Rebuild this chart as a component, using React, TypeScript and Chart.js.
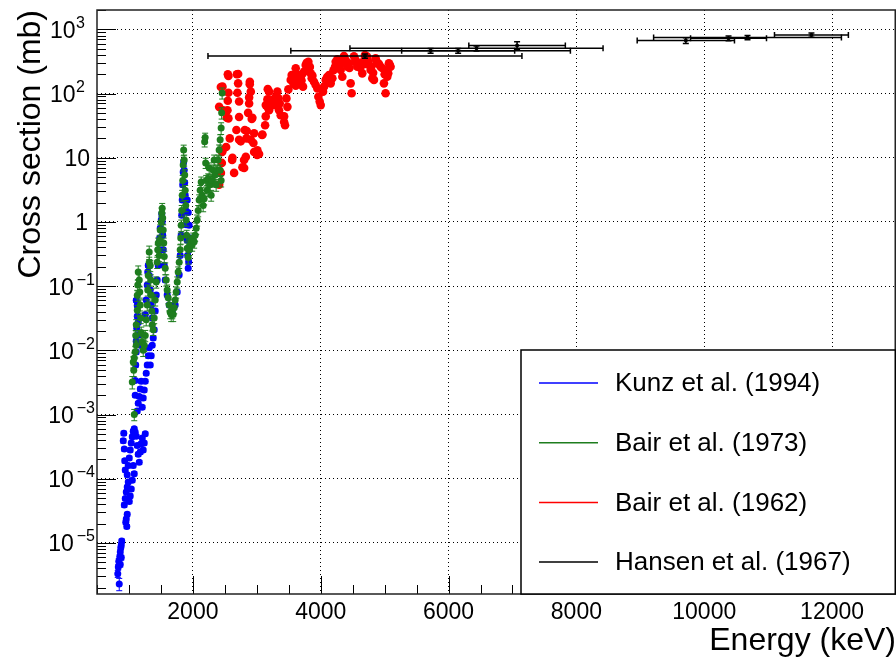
import React, { useEffect, useRef } from 'react';
import { Chart, registerables } from 'chart.js';

Chart.register(...registerables);

const FONT = '"Liberation Sans", Arial, Helvetica, sans-serif';

// ---------- data (E in keV, cross section in mb) ----------
// Kunz et al. (1994): [E, sigma, dSigma]
const kunz1994: number[][] = [
  [848, 2.3e-6, 0.5e-6], [825, 3.3e-6, 0.4e-6], [833, 4.2e-6, 0.4e-6], [841, 5.2e-6, 0.5e-6],
  [856, 6.1e-6, 0.5e-6], [864, 7.2e-6, 0.6e-6], [872, 8.4e-6, 0.6e-6], [880, 9.3e-6, 0.7e-6],
  [887, 1.07e-5, 0.8e-6], [864, 4.6e-6, 0.4e-6], [880, 5.9e-6, 0.5e-6], [950, 2.1e-5, 1.5e-6],
  [958, 2.35e-5, 1.6e-6], [966, 1.8e-5, 1.3e-6], [973, 2.8e-5, 2e-6], [927, 3.9e-5, 3e-6],
  [942, 4.9e-5, 3e-6], [958, 6.2e-5, 4e-6], [973, 7.4e-5, 5e-6], [989, 8.9e-5, 6e-6],
  [1005, 4.4e-5, 3e-6], [1020, 5.4e-5, 4e-6], [1036, 6.9e-5, 5e-6], [1052, 9.5e-5, 7e-6],
  [911, 3.9e-4, 3e-5], [919, 5.1e-4, 4e-5], [927, 2.9e-4, 2e-5], [934, 1.9e-4, 1.4e-5],
  [942, 1.37e-4, 1e-5], [973, 1.15e-4, 8e-6], [989, 1.6e-4, 1.2e-5], [1005, 2.1e-4, 1.5e-5],
  [1020, 2.8e-4, 2e-5], [1036, 3.6e-4, 2.5e-5], [1052, 4.5e-4, 3e-5], [1067, 5.5e-4, 4e-5],
  [1083, 6.0e-4, 4e-5], [1098, 5.3e-4, 4e-5], [1114, 4.6e-4, 3e-5], [1130, 3.3e-4, 2.5e-5],
  [1145, 2.4e-4, 1.8e-5], [1161, 1.8e-4, 1.3e-5], [1177, 2.6e-4, 2e-5], [1192, 3.5e-4, 2.5e-5],
  [1208, 4.3e-4, 3e-5], [1223, 2.8e-4, 2e-5], [1239, 3.6e-4, 2.5e-5], [1255, 5.0e-4, 3.5e-5],
  [1067, 1.6e-4, 1.2e-5], [1083, 1.2e-4, 9e-6], [1130, 1.13e-3, 8e-5], [1145, 1.5e-3, 1e-4],
  [1161, 1.9e-3, 1.3e-4], [1177, 2.5e-3, 1.8e-4], [1192, 3.3e-3, 2.3e-4], [1208, 1.3e-3, 9e-5],
  [1223, 1.8e-3, 1.3e-4], [1239, 2.4e-3, 1.7e-4], [1255, 3.3e-3, 2.3e-4], [1270, 4.4e-3, 3e-4],
  [1286, 5.9e-3, 4e-4], [1302, 8.2e-3, 6e-4], [1317, 1.1e-2, 8e-4], [1333, 5.9e-3, 4e-4],
  [1348, 8.2e-3, 6e-4], [1364, 1.2e-2, 8e-4], [1380, 1.55e-2, 1.1e-3], [1395, 2.1e-2, 1.5e-3],
  [1098, 2.0e-3, 1.4e-4], [1098, 3.4e-3, 2.4e-4], [1106, 5.9e-3, 4e-4], [1114, 9.4e-3, 7e-4],
  [1114, 1.4e-2, 1e-3], [1122, 2.2e-2, 1.5e-3], [1130, 3.4e-2, 2.4e-3], [1130, 5.0e-2, 3.5e-3],
  [1114, 6.0e-2, 4e-3], [1145, 2.7e-2, 1.9e-3], [1161, 1.75e-2, 1.2e-3], [1177, 1.2e-2, 8e-4],
  [1270, 6.1e-2, 4e-3], [1286, 0.104, 7e-3], [1294, 0.166, 0.012], [1302, 0.21, 0.015],
  [1317, 0.146, 0.01], [1333, 0.087, 6e-3], [1348, 0.051, 3.5e-3], [1364, 0.032, 2.2e-3],
  [1255, 0.036, 2.5e-3], [1411, 0.041, 3e-3], [1427, 0.073, 5e-3], [1442, 0.125, 9e-3],
  [1458, 0.21, 0.015], [1473, 0.37, 0.026], [1481, 0.56, 0.04], [1489, 0.8, 0.056],
  [1505, 1.07, 0.075], [1513, 1.33, 0.09], [1520, 1.0, 0.07], [1528, 0.62, 0.043],
  [1536, 0.37, 0.026], [1552, 0.21, 0.015], [1567, 0.125, 9e-3], [1598, 0.073, 5e-3],
  [1630, 0.051, 3.5e-3], [1677, 0.039, 2.7e-3], [1723, 0.051, 3.5e-3], [1755, 0.081, 5.7e-3],
  [1786, 0.15, 0.011], [1802, 0.3, 0.021], [1817, 0.62, 0.043], [1825, 1.27, 0.09],
  [1833, 2.2, 0.15], [1841, 3.8, 0.27], [1848, 6.0, 0.42], [1856, 8.6, 0.6],
  [1864, 6.4, 0.45], [1872, 4.1, 0.29], [1880, 2.6, 0.18], [1888, 1.5, 0.1],
  [1895, 0.9, 0.063], [1911, 0.52, 0.036], [1919, 0.3, 0.021], [1927, 0.19, 0.013],
  [1934, 0.24, 0.017], [1942, 0.37, 0.026], [1958, 0.56, 0.04], [1942, 0.89, 0.062],
  [1927, 1.4, 0.1], [1911, 2.2, 0.15],
];

// Bair et al. (1973): [E, sigma, dSigma]
const bair1973: number[][] = [
  [1083, 1.0e-3, 2e-4], [1052, 3.2e-3, 7e-4], [1067, 6.6e-3, 1.3e-3], [1083, 7.6e-3, 1.5e-3],
  [1075, 4.9e-3, 1e-3], [1098, 9.5e-3, 1.9e-3], [1114, 1.2e-2, 2.4e-3], [1106, 1.7e-2, 3.4e-3],
  [1114, 2.5e-2, 5e-3], [1130, 4.2e-2, 8e-3], [1130, 7.2e-2, 1.4e-2], [1138, 0.104, 0.02],
  [1145, 0.166, 0.04], [1161, 0.125, 0.025], [1169, 0.081, 0.016], [1177, 0.051, 0.01],
  [1184, 0.032, 0.006], [1192, 0.019, 0.004], [1208, 0.0135, 0.003], [1223, 0.01, 0.002],
  [1239, 0.012, 0.0024], [1255, 0.017, 0.0034], [1270, 0.03, 0.006], [1286, 0.051, 0.01],
  [1294, 0.087, 0.017], [1302, 0.146, 0.03], [1317, 0.235, 0.047], [1317, 0.34, 0.08],
  [1333, 0.21, 0.042], [1341, 0.125, 0.025], [1348, 0.073, 0.015], [1356, 0.041, 0.008],
  [1364, 0.025, 0.005], [1380, 0.021, 0.004], [1395, 0.032, 0.006], [1411, 0.061, 0.012],
  [1427, 0.116, 0.023], [1442, 0.235, 0.047], [1450, 0.37, 0.07], [1458, 0.47, 0.09],
  [1473, 0.3, 0.06], [1481, 0.52, 0.1], [1489, 0.75, 0.15], [1505, 1.0, 0.2],
  [1513, 1.38, 0.28], [1520, 1.64, 0.3], [1528, 1.15, 0.23], [1536, 0.75, 0.15],
  [1544, 0.47, 0.09], [1552, 0.29, 0.06], [1567, 0.19, 0.04], [1583, 0.125, 0.025],
  [1598, 0.087, 0.017], [1614, 0.066, 0.013], [1630, 0.051, 0.01], [1645, 0.039, 0.008],
  [1661, 0.036, 0.008], [1677, 0.039, 0.008], [1692, 0.036, 0.008], [1708, 0.046, 0.009],
  [1723, 0.061, 0.012], [1739, 0.081, 0.016], [1755, 0.116, 0.023], [1770, 0.166, 0.033],
  [1786, 0.235, 0.047], [1802, 0.37, 0.07], [1810, 0.56, 0.11], [1817, 0.89, 0.18],
  [1825, 1.5, 0.3], [1833, 2.6, 0.5], [1841, 4.4, 0.9], [1848, 7.7, 1.5],
  [1856, 13.2, 2.5], [1864, 9.2, 1.8], [1872, 5.4, 1.1], [1880, 3.1, 0.6],
  [1888, 1.8, 0.36], [1895, 1.07, 0.21], [1903, 0.62, 0.12], [1911, 0.39, 0.08],
  [1927, 0.28, 0.06], [1942, 0.37, 0.07], [1958, 0.44, 0.09], [1973, 0.52, 0.1],
  [1989, 0.44, 0.09], [2005, 0.56, 0.11], [2020, 0.49, 0.1], [2036, 0.62, 0.12],
  [2052, 0.8, 0.16], [2067, 1.07, 0.21], [2083, 1.5, 0.3], [2098, 2.2, 0.44],
  [2114, 3.1, 0.6], [2130, 4.2, 0.8], [2145, 2.6, 0.5], [2161, 1.8, 0.36],
  [2177, 2.3, 0.46], [2184, 17.7, 3], [2192, 20.6, 3.5], [2200, 8.3, 1.5],
  [2208, 4.4, 0.9], [2223, 3.1, 0.6], [2239, 4.7, 0.9], [2255, 6.9, 1.4],
  [2270, 3.8, 0.8], [2286, 2.6, 0.5], [2302, 4.4, 0.9], [2317, 6.4, 1.3],
  [2333, 9.2, 1.8], [2348, 5.4, 1.1], [2364, 3.8, 0.8], [2380, 6.4, 1.3],
  [2395, 9.2, 1.8], [2411, 13.2, 2.6], [2427, 19, 3.8], [2442, 29, 6],
  [2450, 50, 10], [2458, 102, 20], [2427, 6.4, 1.3], [2442, 4.4, 0.9],
];

// Bair et al. (1962): [E, sigma]
const bair1962: number[][] = [
  [2411, 3.8], [2438, 5.8], [2453, 8.3], [2458, 12.3], [2463, 13], [2411, 62], [2438, 126],
  [2463, 128], [2473, 55], [2520, 14.7], [2531, 42], [2541, 55], [2546, 77], [2556, 41],
  [2556, 103], [2556, 188], [2547, 200], [2577, 20], [2614, 9.2], [2619, 10], [2645, 5.8],
  [2681, 27], [2688, 200], [2697, 103], [2708, 144], [2708, 201], [2723, 75], [2723, 43],
  [2723, 19], [2749, 18], [2775, 7.1], [2801, 9.2], [2802, 6.9], [2812, 27], [2828, 10.3],
  [2838, 20], [2843, 26], [2864, 50], [2880, 70], [2880, 87], [2890, 140], [2891, 152],
  [2906, 107], [2906, 19], [2921, 40], [2931, 42], [2947, 17], [2958, 24], [2958, 12.3],
  [3005, 11], [3010, 13], [3036, 11.4], [3083, 22.6], [3088, 23], [3130, 32], [3140, 44],
  [3141, 66], [3166, 62], [3166, 81], [3172, 117], [3192, 55], [3192, 107], [3203, 70],
  [3239, 79], [3255, 79], [3270, 66], [3296, 89], [3322, 107], [3338, 84], [3348, 55],
  [3359, 70], [3374, 46], [3427, 44], [3427, 36], [3442, 32], [3463, 84], [3479, 62],
  [3494, 116], [3531, 163], [3546, 194], [3560, 170], [3572, 144], [3590, 150], [3609, 132],
  [3609, 247], [3630, 200], [3650, 153], [3670, 180], [3687, 173], [3700, 160], [3713, 201],
  [3723, 128], [3740, 220], [3765, 278], [3780, 300], [3807, 313], [3817, 247], [3830, 260],
  [3843, 206], [3859, 173], [3870, 190], [3895, 153], [3921, 136], [3947, 120], [3963, 89],
  [3984, 75], [4000, 66], [4036, 107], [4052, 128], [4078, 163], [4100, 180], [4130, 194],
  [4156, 144], [4182, 173], [4200, 230], [4224, 262], [4234, 313], [4260, 340], [4286, 295],
  [4312, 232], [4330, 300], [4338, 183], [4364, 384], [4390, 333], [4400, 300], [4416, 262],
  [4442, 295], [4450, 250], [4468, 144], [4484, 101], [4520, 380], [4546, 333], [4560, 300],
  [4572, 262], [4598, 295], [4620, 250], [4650, 206], [4680, 330], [4692, 398], [4700, 290],
  [4728, 375], [4740, 320], [4755, 278], [4781, 232], [4790, 260], [4807, 173], [4820, 210],
  [4833, 163], [4859, 353], [4870, 320], [4885, 295], [4910, 290], [4937, 262], [4960, 250],
  [4989, 144], [5000, 200], [5015, 101], [5030, 230], [5041, 183], [5056, 206], [5067, 295],
  [5080, 280], [5093, 262],
];

// Hansen et al. (1967): [E, sigma, dE, dSigma]
const hansen1967: number[][] = [
  [4692, 384, 2456, 30], [5719, 464, 2187, 40], [6150, 464, 884, 40], [6437, 506, 1980, 45],
  [7072, 560, 755, 80], [9712, 669, 761, 70], [10380, 724, 594, 60], [10677, 745, 1469, 55],
  [11677, 815, 578, 60],
];

const seriesLabels = ['Kunz et al. (1994)', 'Bair et al. (1973)', 'Bair et al. (1962)', 'Hansen et al. (1967)'];
const seriesColors = ['#0000ff', '#1e7d1e', '#ff0000', '#000000'];

const xRange = [500, 13000];
const yRange = [1.6e-6, 2000];
const xTickValues = [2000, 4000, 6000, 8000, 10000, 12000];
const yTickValues = [1e-5, 1e-4, 1e-3, 1e-2, 1e-1, 1, 10, 100, 1000];
const yTickBase = ['10', '10', '10', '10', '10', '1', '10', '10', '10'];
const yTickExp = ['−5', '−4', '−3', '−2', '−1', '', '', '2', '3'];
const xTitle = 'Energy (keV)';
const yTitle = 'Cross section (mb)';

// ---------- plugins ----------
const errorBarPlugin = {
  id: 'errorBars',
  beforeDatasetDraw(chart: any, args: any) {
    const ds: any = chart.data.datasets[args.index];
    if (!ds.errStyle) return;
    const { ctx, chartArea: a } = chart;
    const xs = chart.scales.x;
    const ys = chart.scales.y;
    ctx.save();
    ctx.beginPath();
    ctx.rect(a.left, a.top, a.right - a.left, a.bottom - a.top);
    ctx.clip();
    ctx.strokeStyle = ds.errStyle.color;
    ctx.lineWidth = ds.errStyle.width;
    const cap = ds.errStyle.cap;
    for (const p of ds.data) {
      const px = xs.getPixelForValue(p.x);
      const py = ys.getPixelForValue(p.y);
      ctx.beginPath();
      if (p.yErr) {
        const y0 = ys.getPixelForValue(Math.max(p.y - p.yErr, p.y * 0.05));
        const y1 = ys.getPixelForValue(p.y + p.yErr);
        ctx.moveTo(px, y0); ctx.lineTo(px, y1);
        ctx.moveTo(px - cap, y0); ctx.lineTo(px + cap, y0);
        ctx.moveTo(px - cap, y1); ctx.lineTo(px + cap, y1);
      }
      if (p.xErr) {
        const x0 = xs.getPixelForValue(p.x - p.xErr);
        const x1 = xs.getPixelForValue(p.x + p.xErr);
        ctx.moveTo(x0, py); ctx.lineTo(x1, py);
        ctx.moveTo(x0, py - cap); ctx.lineTo(x0, py + cap);
        ctx.moveTo(x1, py - cap); ctx.lineTo(x1, py + cap);
      }
      ctx.stroke();
    }
    ctx.restore();
  },
};

const framePlugin = {
  id: 'rootFrame',
  afterDatasetsDraw(chart: any) {
    const { ctx, chartArea: a } = chart;
    const xs = chart.scales.x;
    const ys = chart.scales.y;
    ctx.save();
    ctx.strokeStyle = '#000';
    ctx.lineWidth = 1;
    ctx.beginPath();
    // y ticks (log, inside)
    for (let d = -6; d <= 3; d++) {
      for (let m = 1; m <= 9; m++) {
        const v = m * Math.pow(10, d);
        if (v < yRange[0] || v > yRange[1]) continue;
        const py = Math.round(ys.getPixelForValue(v)) + 0.5;
        const len = m === 1 ? 19 : 9;
        ctx.moveTo(a.left, py);
        ctx.lineTo(a.left + len, py);
      }
    }
    // x ticks (inside)
    for (let v = xRange[0]; v <= xRange[1]; v += 500) {
      const px = Math.round(xs.getPixelForValue(v)) + 0.5;
      const len = v % 2000 === 0 ? 18 : 9;
      ctx.moveTo(px, a.bottom);
      ctx.lineTo(px, a.bottom - len);
    }
    ctx.stroke();
    ctx.lineWidth = 1.5;
    ctx.strokeStyle = '#222';
    ctx.strokeRect(a.left, a.top, a.right - a.left - 0.75, a.bottom - a.top);

    // y tick labels: "10" with raised exponent
    ctx.fillStyle = '#000';
    ctx.textAlign = 'left';
    yTickValues.forEach((v, i) => {
      const py = ys.getPixelForValue(v);
      const base = yTickBase[i];
      const exp = yTickExp[i];
      const neg = exp.startsWith('−');
      ctx.font = `23px ${FONT}`;
      const wb = ctx.measureText(base).width;
      ctx.font = `16px ${FONT}`;
      const we = exp ? ctx.measureText(exp).width : 0;
      const gap = neg ? 3 : exp ? 0.5 : 0;
      let right: number;
      if (neg) right = a.left - 2;
      else if (exp) right = a.left - 12;
      else if (base === '10') right = a.left - 7;
      else right = a.left - 9;
      const bx = right - we - gap - wb;
      ctx.font = `23px ${FONT}`;
      ctx.textBaseline = 'alphabetic';
      ctx.fillText(base, bx, py + 8.5);
      if (exp) {
        ctx.font = `16px ${FONT}`;
        ctx.fillText(exp, bx + wb + gap, py - 1.5);
      }
    });
    ctx.restore();
  },
};

const legendPlugin = {
  id: 'rootLegend',
  afterDraw(chart: any) {
    const { ctx, chartArea: a } = chart;
    const left = a.left + 424;
    const top = a.bottom - 244;
    const right = a.right - 0.75;
    const bottom = a.bottom;
    ctx.save();
    ctx.fillStyle = '#fff';
    ctx.fillRect(left, top, right - left, bottom - top);
    ctx.strokeStyle = '#000';
    ctx.lineWidth = 1.5;
    ctx.strokeRect(left, top, right - left, bottom - top);
    ctx.font = `26px ${FONT}`;
    ctx.textBaseline = 'middle';
    ctx.textAlign = 'left';
    chart.data.datasets.forEach((ds: any, i: number) => {
      const y = top + 33 + i * 59.7;
      ctx.strokeStyle = ds.pointBackgroundColor;
      ctx.lineWidth = 1.5;
      ctx.beginPath();
      ctx.moveTo(left + 18, y);
      ctx.lineTo(left + 77, y);
      ctx.stroke();
      ctx.fillStyle = '#000';
      ctx.fillText(ds.label, left + 94, y + 1);
    });
    ctx.restore();
  },
};

function buildConfig(): any {
  const toPts = (rows: number[][]) => rows.map((r) => ({ x: r[0], y: r[1], yErr: r[2] }));
  const datasets = [
    {
      label: seriesLabels[0],
      data: toPts(kunz1994),
      pointRadius: 3.5,
      pointBackgroundColor: seriesColors[0],
      pointBorderWidth: 0,
      order: 3,
      errStyle: { color: seriesColors[0], width: 1, cap: 3 },
    },
    {
      label: seriesLabels[1],
      data: toPts(bair1973),
      pointRadius: 3.5,
      pointBackgroundColor: seriesColors[1],
      pointBorderWidth: 0,
      order: 1,
      errStyle: { color: seriesColors[1], width: 1, cap: 3 },
    },
    {
      label: seriesLabels[2],
      data: bair1962.map((r) => ({ x: r[0], y: r[1] })),
      pointRadius: 4.3,
      pointBackgroundColor: seriesColors[2],
      pointBorderWidth: 0,
      order: 2,
    },
    {
      label: seriesLabels[3],
      data: hansen1967.map((r) => ({ x: r[0], y: r[1], xErr: r[2], yErr: r[3] })),
      pointRadius: 2,
      pointBackgroundColor: seriesColors[3],
      pointBorderWidth: 0,
      order: 0,
      errStyle: { color: seriesColors[3], width: 1.5, cap: 3 },
    },
  ].map((d) => ({ ...d, type: 'scatter', showLine: false, borderColor: d.pointBackgroundColor }));

  const tickFont = { family: FONT, size: 23 };
  const titleFont = { family: FONT, size: 32, lineHeight: 1.2 };

  return {
    type: 'scatter',
    data: { datasets },
    options: {
      animation: false,
      responsive: false,
      devicePixelRatio: 1,
      events: [],
      layout: { autoPadding: false, padding: { top: 10, left: 0, right: 0, bottom: 0 } },
      plugins: { legend: { display: false }, tooltip: { enabled: false } },
      scales: {
        x: {
          type: 'linear',
          min: xRange[0],
          max: xRange[1],
          afterBuildTicks: (s: any) => {
            s.ticks = xTickValues.map((v) => ({ value: v }));
          },
          afterFit: (s: any) => {
            s.height = 68;
            s.paddingLeft = 0;
            s.paddingRight = 0;
          },
          ticks: {
            font: tickFont,
            color: '#000',
            padding: 5,
            maxRotation: 0,
            autoSkip: false,
            callback: (v: any) => String(v),
          },
          grid: { color: '#000', lineWidth: 1, drawTicks: false },
          border: { display: false, dash: [1, 3] },
          title: {
            display: true,
            text: xTitle,
            align: 'end',
            color: '#000',
            font: titleFont,
            padding: { top: 0, bottom: 2 },
          },
        },
        y: {
          type: 'logarithmic',
          min: yRange[0],
          max: yRange[1],
          afterBuildTicks: (s: any) => {
            s.ticks = yTickValues.map((v) => ({ value: v }));
          },
          afterFit: (s: any) => {
            s.width = 97;
            s.paddingTop = 0;
            s.paddingBottom = 0;
          },
          ticks: {
            display: false,
            font: tickFont,
            autoSkip: false,
            callback: (_v: any, i: number) => yTickBase[i] + yTickExp[i],
          },
          grid: { color: '#000', lineWidth: 1, drawTicks: false },
          border: { display: false, dash: [1, 3] },
          title: {
            display: true,
            text: yTitle,
            align: 'end',
            color: '#000',
            font: titleFont,
            padding: { top: 12, bottom: 0 },
          },
        },
      },
    },
    plugins: [errorBarPlugin, framePlugin, legendPlugin],
  };
}

export default function App() {
  const ref = useRef<HTMLCanvasElement>(null);
  useEffect(() => {
    document.body.style.margin = '0';
    document.body.style.overflow = 'hidden';
    const chart = new Chart(ref.current as HTMLCanvasElement, buildConfig());
    return () => chart.destroy();
  }, []);
  return (
    <div style={{ position: 'absolute', left: 0, top: 0, width: 896, height: 662, background: '#fff' }}>
      <style>{'body{margin:0;overflow:hidden;}'}</style>
      <canvas ref={ref} width={896} height={662} style={{ display: 'block' }} />
    </div>
  );
}
